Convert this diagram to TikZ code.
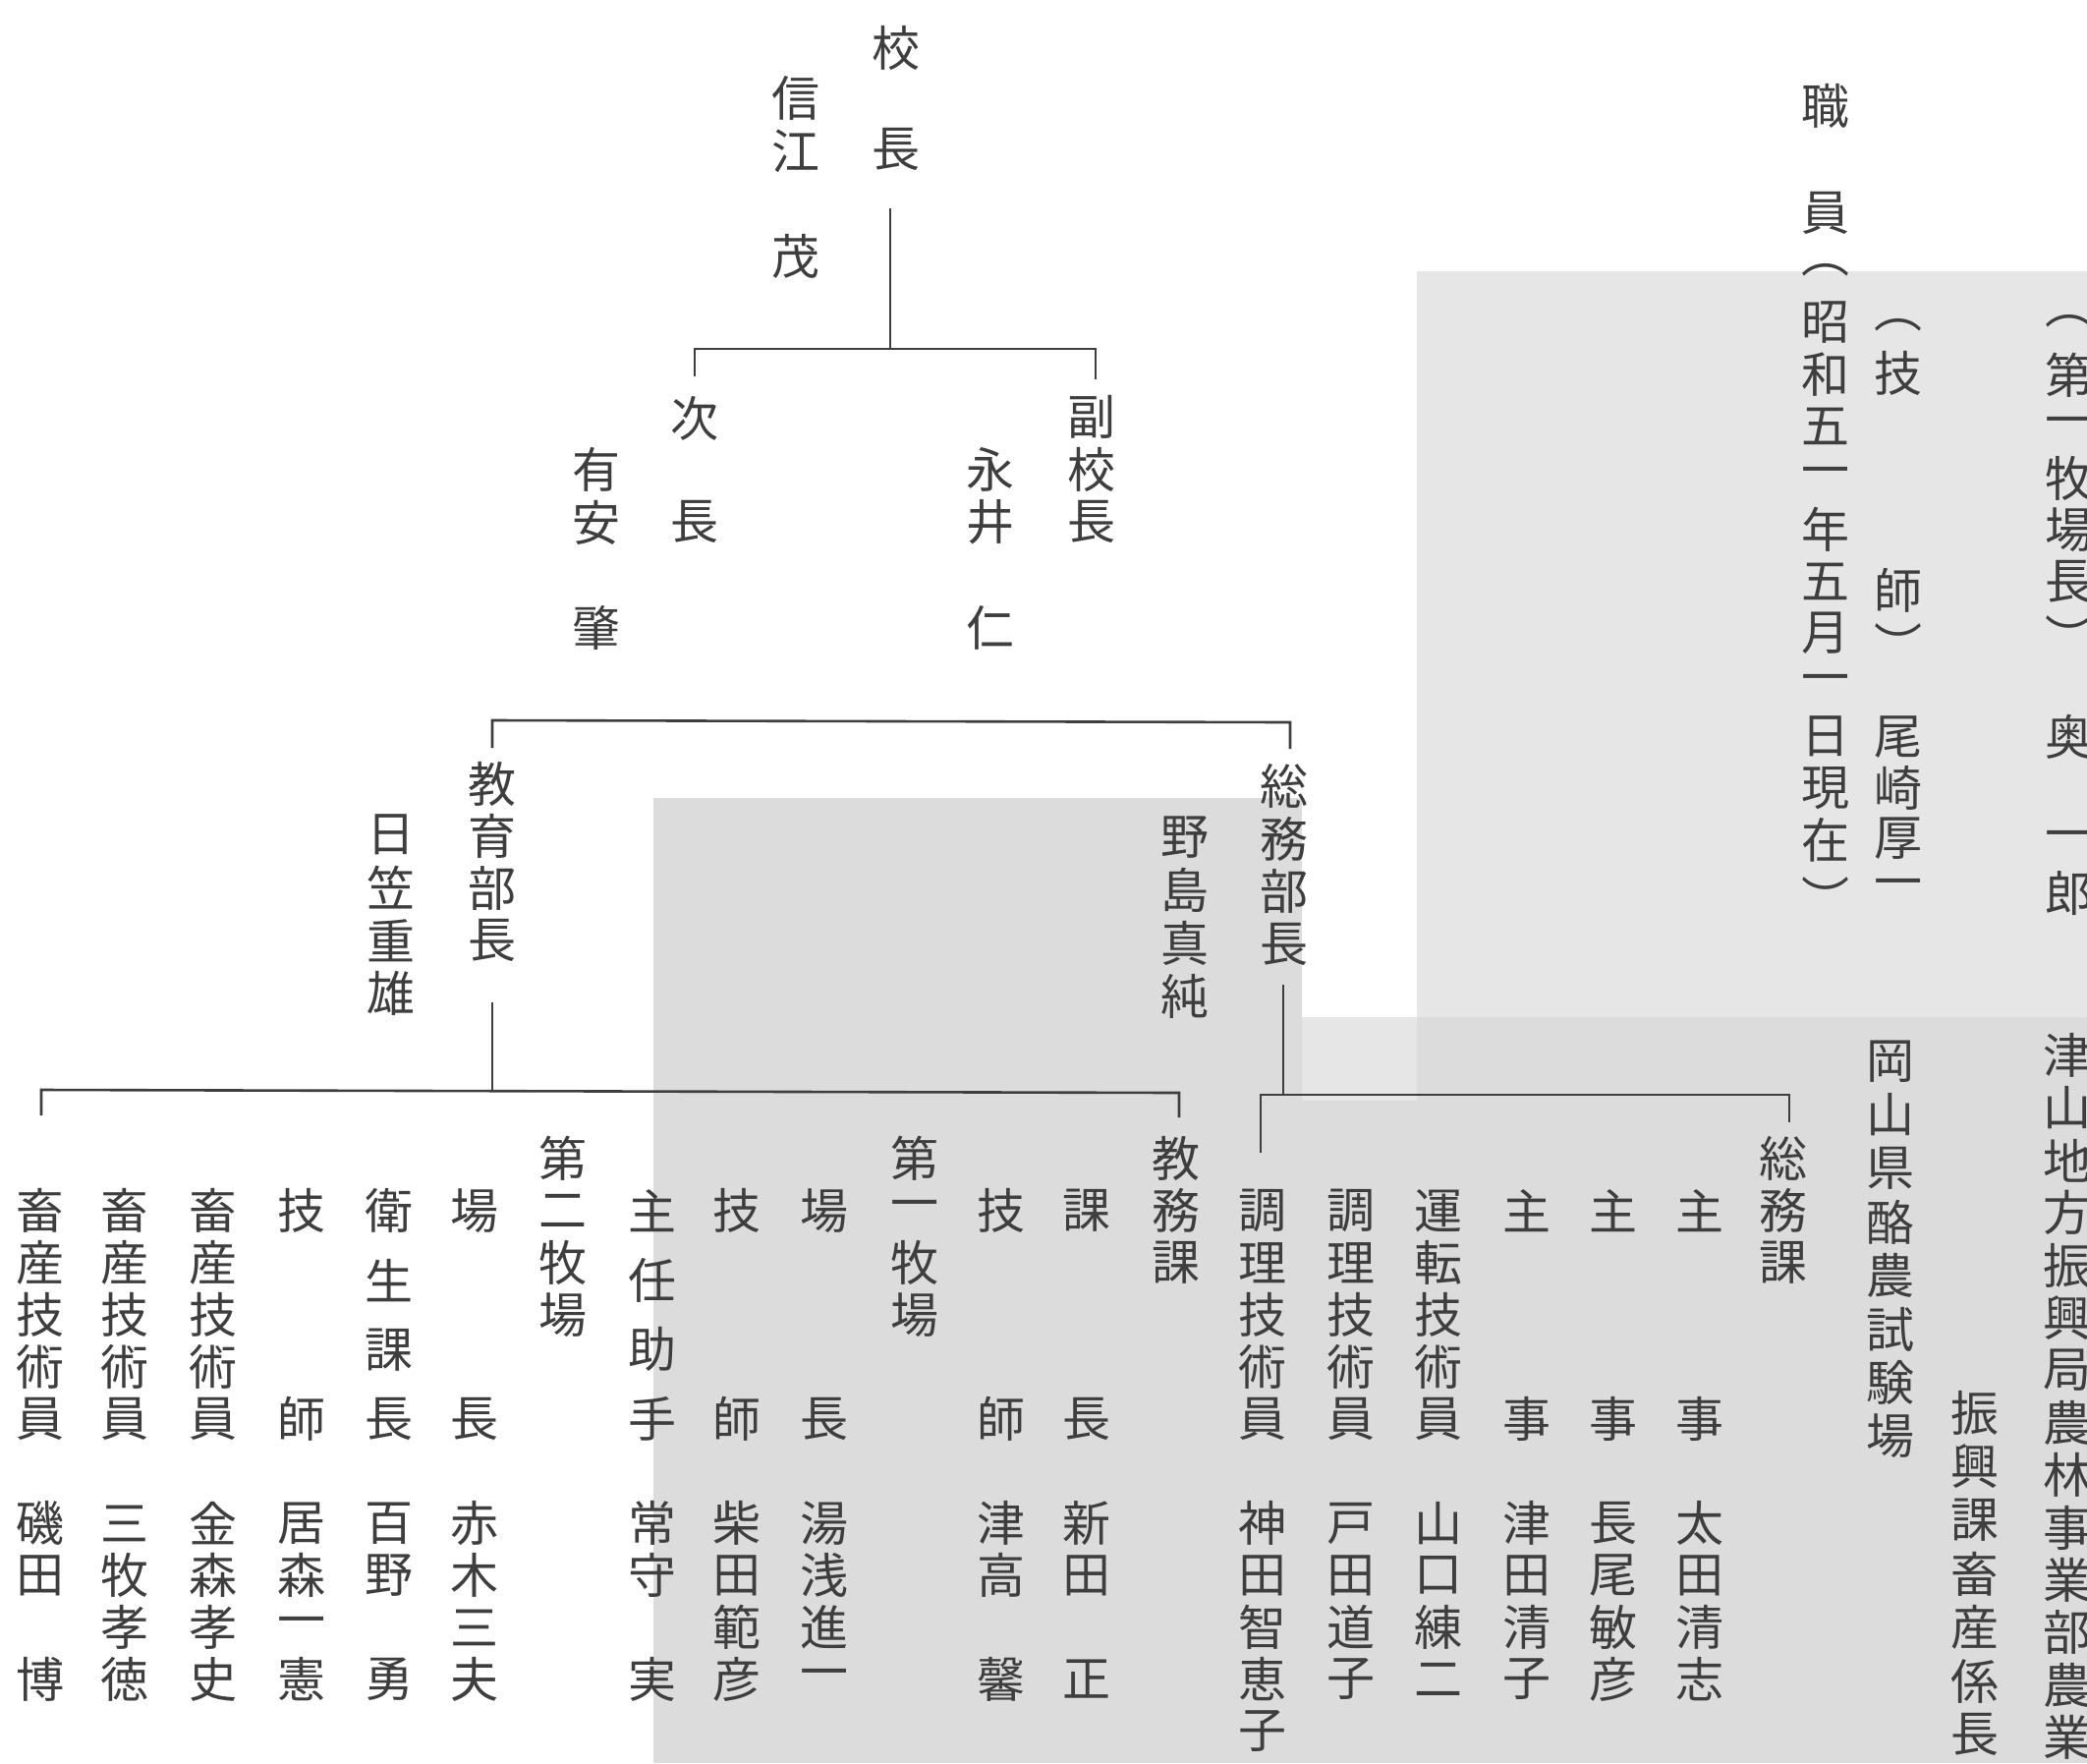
\documentclass[tikz,border=0pt]{standalone}
\usepackage{fontspec}
\newfontfamily\cjk{Noto Sans CJK JP}
\definecolor{ink}{RGB}{62,62,62}
\definecolor{phA}{RGB}{230,230,230}
\definecolor{phB}{RGB}{220,220,220}
\makeatletter
\newlength\vtcw \setlength\vtcw{60pt}
\def\vt@stop{\vt@stop}
\newcommand\vstack[2]{\vbox{\offinterlineskip\def\vt@p{#1}\vt@loop#2\vt@stop}}
\def\vt@loop#1{\ifx#1\vt@stop\else\vt@slot{#1}\expandafter\vt@loop\fi}
\def\vt@slot#1{\hbox to\vtcw{\hss\vbox to \vt@p pt{\vss\hbox{#1}\vss}\hss}}
\makeatother
\newcommand\vgap{}
\newcommand\vcol[5]{\node[vtxt] (#1) at (#2,{#3-#4/2}) {\vstack{#4}{#5}};}
\tikzset{
  vtxt/.style={inner sep=0pt, outer sep=0pt, anchor=north, text=ink, font=\cjk\fontsize{49}{49}\selectfont},
  vpar/.style={inner sep=0pt, outer sep=0pt, anchor=center, text=ink, font=\cjk\fontsize{49}{49}\selectfont},
  ln/.style={draw=ink, line width=2.6pt}
}
\begin{document}
\begin{tikzpicture}[x=1pt,y=-1pt]
\useasboundingbox (0,0) rectangle (2124,1794);
\fill[white] (0,0) rectangle (2124,1794);
% faint photographs behind the chart
\fill[phA] (1442,276) rectangle (2124,1035);
\fill[phA] (1325,1035) rectangle (1442,1120);
\fill[phB] (665,812) rectangle (1325,1794);
\fill[phB] (1325,1120) rectangle (1442,1794);
\fill[phB] (1442,1035) rectangle (2124,1794);

% ---- top ----
\vcol{kocho}{912}{49}{51.5}{校\vgap 長}
\vcol{nobue}{810}{100}{53.5}{信江\vgap 茂}
\vcol{jicho}{707}{426}{52.5}{次\vgap 長}
\vcol{fuku}{1111}{424}{53.5}{副校長}
\vcol{ariyasu}{607}{478}{53.5}{有安\vgap 肇}
\vcol{nagai}{1008}{478}{53.5}{永井\vgap 仁}

\coordinate (k0) at (906,212);
\coordinate (k1) at (906,355);
\coordinate (kL) at (707,355);
\coordinate (kLd) at (707,383);
\coordinate (kR) at (1115,355);
\coordinate (kRd) at (1115,386);
\draw[ln] (k0) -- (k1);
\draw[ln] (kLd) -- (kL) -- (kR) -- (kRd);

% ---- middle ----
\vcol{kyoiku}{501}{798}{53}{教育部長}
\vcol{somubu}{1307}{800}{53.5}{総務部長}
\vcol{hikasa}{398}{849}{54}{日笠重雄}
\vcol{nojima}{1206}{852}{54}{野島真純}

\coordinate (m1) at (501,761);
\coordinate (m2) at (501,733);
\coordinate (m3) at (1313,735);
\coordinate (m4) at (1313,762);
\draw[ln] (m1) -- (m2) -- (m3) -- (m4);

\coordinate (L1) at (501,1020);
\coordinate (L2) at (501,1109);
\coordinate (La) at (42,1135);
\coordinate (Lb) at (42,1109);
\coordinate (Lc) at (1200,1112);
\coordinate (Ld) at (1200,1137);
\draw[ln] (L1) -- (L2);
\draw[ln] (La) -- (Lb) -- (Lc) -- (Ld);

\coordinate (R1) at (1306,1002);
\coordinate (R2) at (1306,1114);
\coordinate (Ra) at (1283,1173);
\coordinate (Rb) at (1283,1114);
\coordinate (Rc) at (1821,1114);
\coordinate (Rd) at (1821,1142);
\draw[ln] (R1) -- (R2);
\draw[ln] (Ra) -- (Rb) -- (Rc) -- (Rd);

% ---- bottom: education side ----
\vcol{kyomuka}{1197}{1179}{53}{教務課}
\vcol{t1}{1106}{1232}{53}{課\vgap\vgap\vgap 長}
\vcol{n1}{1106}{1550}{53}{新田\vgap 正}
\vcol{t2}{1019}{1232}{53}{技\vgap\vgap\vgap 師}
\vcol{n2}{1019}{1550}{53}{津高\vgap 馨}
\vcol{bokujo1}{931}{1179}{53}{第一牧場}
\vcol{t3}{839}{1232}{53}{場\vgap\vgap\vgap 長}
\vcol{n3}{839}{1550}{53}{湯浅進一}
\vcol{t4}{750}{1232}{53}{技\vgap\vgap\vgap 師}
\vcol{n4}{750}{1550}{53}{柴田範彦}
\vcol{t5}{664}{1232}{70.67}{主任助手}
\vcol{n5}{664}{1550}{53}{常守\vgap 実}
\vcol{bokujo2}{573}{1179}{53}{第二牧場}
\vcol{t6}{483}{1232}{53}{場\vgap\vgap\vgap 長}
\vcol{n6}{483}{1550}{53}{赤木三夫}
\vcol{t7}{396}{1232}{70.67}{衛生課長}
\vcol{n7}{396}{1550}{53}{百野\vgap 勇}
\vcol{t8}{307}{1232}{53}{技\vgap\vgap\vgap 師}
\vcol{n8}{307}{1550}{53}{居森一憲}
\vcol{t9}{217}{1232}{53}{畜産技術員}
\vcol{n9}{217}{1550}{53}{金森孝史}
\vcol{t10}{127}{1232}{53}{畜産技術員}
\vcol{n10}{127}{1550}{53}{三牧孝徳}
\vcol{t11}{41}{1232}{53}{畜産技術員}
\vcol{n11}{41}{1550}{53}{磯田\vgap 博}

% ---- bottom: general affairs side ----
\vcol{somuka}{1815}{1179}{53}{総務課}
\vcol{s1}{1730}{1232}{53}{主\vgap\vgap\vgap 事}
\vcol{sn1}{1730}{1550}{53}{太田清志}
\vcol{s2}{1642}{1232}{53}{主\vgap\vgap\vgap 事}
\vcol{sn2}{1642}{1550}{53}{長尾敏彦}
\vcol{s3}{1554}{1232}{53}{主\vgap\vgap\vgap 事}
\vcol{sn3}{1554}{1550}{53}{津田清子}
\vcol{s4}{1464}{1232}{53}{運転技術員}
\vcol{sn4}{1464}{1550}{53}{山口練二}
\vcol{s5}{1375}{1232}{53}{調理技術員}
\vcol{sn5}{1375}{1550}{53}{戸田道子}
\vcol{s6}{1285}{1232}{53}{調理技術員}
\vcol{sn6}{1285}{1550}{53}{神田智恵子}

% ---- right block ----
\vcol{shokuin}{1858}{108}{54.5}{職\vgap 員}
\node[vpar] (pa1) at (1858,275) {︵};
\vcol{date}{1858}{328}{52.7}{昭和五一年五月一日現在}
\node[vpar] (pa2) at (1858,913) {︶};

\node[vpar] (pb1) at (1932,331) {︵};
\vcol{gishi}{1932}{380}{55.25}{技\vgap\vgap\vgap 師}
\node[vpar] (pb2) at (1932,655) {︶};
\vcol{ozaki}{1932}{750}{51.5}{尾崎厚一}
\vcol{rakuno}{1924}{1080}{54.5}{岡山県酪農試験場}

\vcol{shinko}{2010}{1438}{54.5}{振興課畜産係長}

\node[vpar] (pc1) at (2106,327) {︵};
\vcol{daiichi}{2106}{382}{52.5}{第一牧場長}
\node[vpar] (pc2) at (2106,647) {︶};
\vcol{oku}{2106}{750}{53}{奥\vgap 一郎}
\vcol{tsuyama}{2104}{1074}{53.4}{津山地方振興局農林事業部農業}
\end{tikzpicture}
\end{document}
